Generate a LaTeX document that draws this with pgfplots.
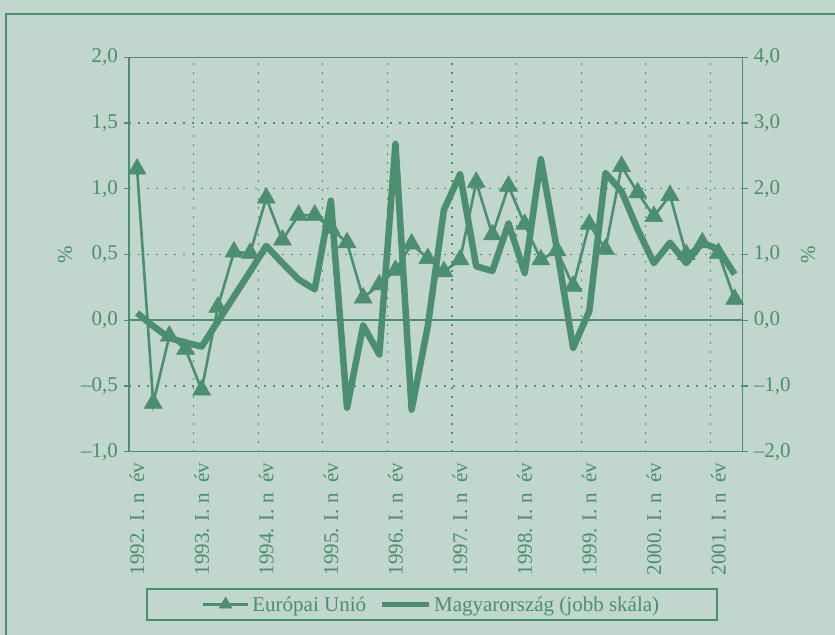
\documentclass[border=0pt]{standalone}
\usepackage{pgfplots}
\pgfplotsset{compat=1.18}
\usepackage{fontspec}
\setmainfont{Liberation Serif}
\definecolor{bg}{RGB}{193,214,204}
\definecolor{gr}{RGB}{76,142,112}

\pgfplotstableread{
i eu
0 1.15
1 -0.63
2 -0.12
3 -0.22
4 -0.53
5 0.10
6 0.52
7 0.51
8 0.93
9 0.61
10 0.80
11 0.80
12 0.70
13 0.59
14 0.17
15 0.27
16 0.38
17 0.58
18 0.47
19 0.37
20 0.46
21 1.05
22 0.65
23 1.02
24 0.73
25 0.46
26 0.53
27 0.26
28 0.73
29 0.54
30 1.17
31 0.97
32 0.79
33 0.95
34 0.50
35 0.59
36 0.51
37 0.16
}\eutable

\pgfplotstableread{
i hu
0 0.11
1 -0.09
2 -0.27
3 -0.34
4 -0.40
5 -0.02
6 0.36
7 0.74
8 1.13
9 0.87
10 0.62
11 0.47
12 1.82
13 -1.33
14 -0.08
15 -0.52
16 2.68
17 -1.36
18 -0.09
19 1.68
20 2.22
21 0.82
22 0.75
23 1.47
24 0.72
25 2.45
26 1.08
27 -0.42
28 0.14
29 2.24
30 1.96
31 1.38
32 0.87
33 1.18
34 0.87
35 1.18
36 1.08
37 0.70
}\hutable

\pgfplotsset{
  chartbase/.style={
    at={(129bp,183.3bp)}, anchor=south west,
    scale only axis, width=613.7bp, height=394.4bp,
    xmin=-0.5, xmax=37.5,
    font=\fontsize{21bp}{25bp}\selectfont,
    ticklabel style={text=gr},
    tick align=outside, major tick length=5bp,
    tick style={gr, line width=1.3bp},
    axis line style={gr, line width=1.5bp},
    yticklabel style={inner sep=1bp},
    yticklabel shift=5bp,
    every axis y label/.style={rotate=90, anchor=center, text=gr},
  },
  eulegend/.style={legend image code/.code={\draw[mark repeat=2,mark phase=2,##1,mark size=7.5bp] plot coordinates {(0bp,0bp) (22.5bp,0bp) (45bp,0bp)};}},
  hulegend/.style={legend image code/.code={\draw[##1] (0bp,0bp) -- (47bp,0bp);}},
}

\begin{document}
\begin{tikzpicture}
\fill[bg] (0,0) rectangle (835bp,635bp);
\draw[gr, line width=1.5bp] (6bp,0bp) -- (6bp,621bp) -- (835bp,621bp);

\begin{axis}[
  chartbase,
  ymin=-1, ymax=2,
  xtick={0,4,...,36},
  xticklabels={1992. I. n\ \ év,1993. I. n\ \ év,1994. I. n\ \ év,1995. I. n\ \ év,1996. I. n\ \ év,1997. I. n\ \ év,1998. I. n\ \ év,1999. I. n\ \ év,2000. I. n\ \ év,2001. I. n\ \ év},
  xticklabel style={rotate=90, anchor=east, inner sep=1bp},
  xticklabel shift=5bp,
  minor xtick={3.5,7.5,...,35.5},
  xminorgrids=true,
  xtick style={draw=none},
  ytick={-1,-0.5,0,0.5,1,1.5,2},
  yticklabels={{–1,0},{–0,5},{0,0},{0,5},{1,0},{1,5},{2,0}},
  ymajorgrids=true,
  grid style={gr, line width=1.2bp, dash pattern=on 1.5bp off 7.5bp},
  minor grid style={gr, line width=1.2bp, dash pattern=on 1.5bp off 7.5bp},
  major grid style={gr, line width=1.2bp, dash pattern=on 1.5bp off 7.5bp},
  ytick pos=left,
  ylabel={\%},
  every axis y label/.append style={at={(axis description cs:-0.1043,0.5)}},
  legend columns=2,
  legend style={at={(0.4937,-0.3874)}, anchor=center, draw=gr, line width=1.5bp,
    fill=bg, text=gr, inner xsep=55bp, inner ysep=4.5bp,
    nodes={inner sep=3bp, text=gr},
    /tikz/every even column/.append style={column sep=10bp}},
]
\draw[gr, line width=1.5bp] (axis cs:-0.5,0) -- (axis cs:37.5,0);
\addplot[gr, line width=2.6bp, mark=triangle*, mark size=10.4bp,
  mark options={solid, fill=gr, draw=gr, line width=0.5bp}, eulegend]
  table[x=i, y=eu] {\eutable};
\addlegendentry{Európai Unió}
\addlegendimage{gr, line width=5bp, hulegend}
\addlegendentry{Magyarország (jobb skála)}
\end{axis}

\begin{axis}[
  chartbase,
  ymin=-2, ymax=4,
  axis y line*=right,
  axis x line=none,
  ytick={-2,-1,0,1,2,3,4},
  yticklabels={{–2,0},{–1,0},{0,0},{1,0},{2,0},{3,0},{4,0}},
  ylabel={\%},
  every axis y label/.append style={at={(axis description cs:1.1064,0.5)}},
]
\addplot[gr, line width=6.5bp, line join=round, no markers] table[x=i, y=hu] {\hutable};
\end{axis}

\pgfresetboundingbox
\path[use as bounding box] (0,0) rectangle (835bp,635bp);
\end{tikzpicture}
\end{document}
